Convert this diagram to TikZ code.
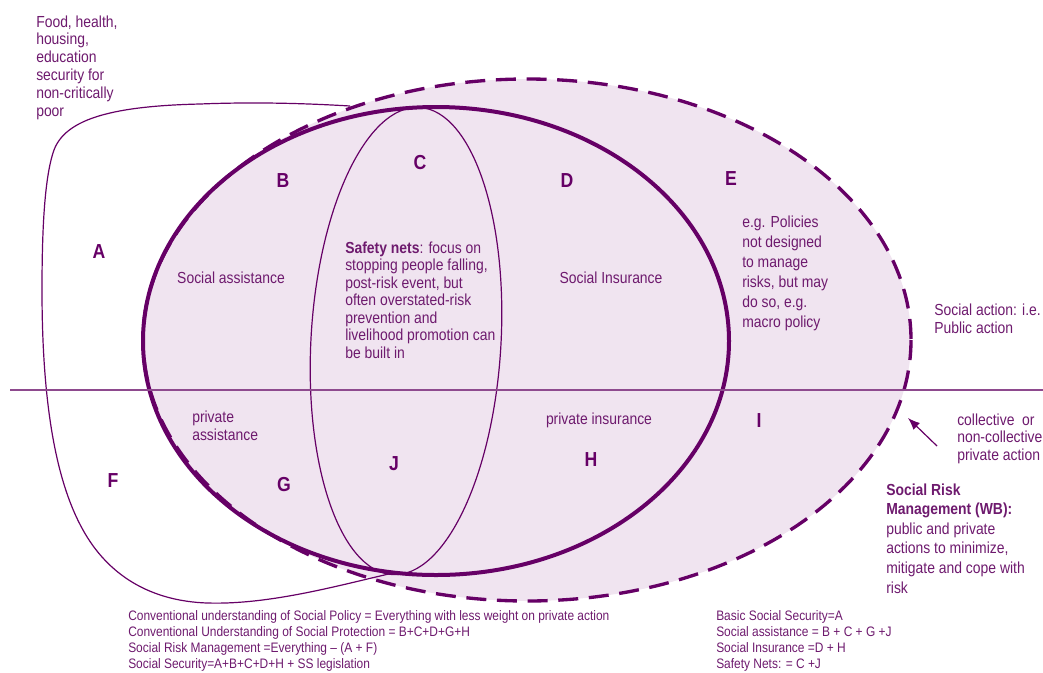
\documentclass[tikz,border=0pt]{standalone}
\usepackage{fontspec}
\setmainfont{Liberation Sans}[FakeStretch=0.87]
\usetikzlibrary{arrows.meta}
\definecolor{lineP}{HTML}{660066}
\definecolor{textP}{HTML}{6E1A6E}
\definecolor{fillP}{HTML}{F0E4F0}
\definecolor{hlineP}{HTML}{8E4A8E}
\begin{document}
\begin{tikzpicture}[x=0.75pt,y=-0.75pt,
  lbl/.style={font=\fontsize{15.2}{15.2}\selectfont\bfseries, text=lineP, inner sep=0},
  txt/.style={font=\fontsize{12}{13.4}\selectfont, text=textP, inner sep=0, align=left, anchor=base west},
  ctxt/.style={font=\fontsize{12}{13.4}\selectfont, text=textP, inner sep=0, anchor=base},
  foot/.style={font=\fontsize{10.3}{12}\selectfont, text=textP, inner sep=0, align=left, anchor=base west},
  thinline/.style={draw=lineP, line width=0.9pt},
  thickline/.style={draw=lineP, line width=3pt},
  dashline/.style={draw=lineP, line width=2.5pt, dash pattern=on 15pt off 8pt},
  ]
\useasboundingbox (0,0) rectangle (1043,672);
% regions
\fill[fillP] (527,340) ellipse [x radius=384, y radius=261];
\draw[thinline] (350,106) .. controls (300,103) and (250,102) .. (200,104)
  .. controls (115,106) and (66,118) .. (54,150)
  .. controls (44,178) and (42,235) .. (42,290)
  .. controls (42,400) and (55,480) .. (83,530)
  .. controls (108,575) and (150,601) .. (207,603)
  .. controls (270,605) and (340,585) .. (393,573);
\draw[thinline, rotate around={-3.3:(406,341)}] (406,341) ellipse [x radius=95, y radius=234];
\draw[thickline] (436,341) ellipse [x radius=293, y radius=234];
\draw[dashline] (527,340) ellipse [x radius=384, y radius=261];
\draw[draw=hlineP, line width=1pt] (10,390) -- (1043,390);
% arrow
\coordinate (arrS) at (937,446);
\coordinate (arrE) at (908,418);
\draw[draw=lineP, line width=0.9pt, -{Latex[length=9pt,width=7pt]}] (arrS) -- (arrE);
% letters
\node[lbl] (lA) at (99,252) {A};
\node[lbl] (lB) at (283,181) {B};
\node[lbl] (lC) at (420,163) {C};
\node[lbl] (lD) at (567,181) {D};
\node[lbl] (lE) at (731,179) {E};
\node[lbl] (lF) at (113,481) {F};
\node[lbl] (lG) at (284,485) {G};
\node[lbl] (lJ) at (394,464) {J};
\node[lbl] (lH) at (591,460) {H};
\node[lbl] (lI) at (759,421) {I};
% texts (anchor = baseline of the last line)
\node[txt, font=\fontsize{12}{13.35}\selectfont] (food) at (36,116) {Food, health,\\housing,\\education\\security for\\non-critically\\poor};
\node[ctxt] (sassist) at (231,283) {Social assistance};
\node[txt, font=\fontsize{12}{13.1}\selectfont] (snets) at (345,358) {\textbf{Safety nets}: focus on\\stopping people falling,\\post-risk event, but\\often overstated-risk\\prevention and\\livelihood promotion can\\be built in};
\node[ctxt] (sins) at (611,283) {Social Insurance};
\node[txt, font=\fontsize{12}{15}\selectfont] (etext) at (742,327) {e.g. Policies\\not designed\\to manage\\risks, but may\\do so, e.g.\\macro policy};
\node[txt, font=\fontsize{12}{13.5}\selectfont] (sact) at (934,333) {Social action: i.e.\\Public action};
\node[txt, font=\fontsize{12}{13}\selectfont] (passist) at (192,440) {private\\assistance};
\node[ctxt] (pins) at (599,424) {private insurance};
\node[txt, font=\fontsize{12}{13.1}\selectfont] (coll) at (957,460) {collective \ or\\non-collective\\private action};
\node[txt, font=\fontsize{12}{14.7}\selectfont] (srm) at (886,593) {\textbf{Social Risk}\\\textbf{Management (WB):}\\public and private\\actions to minimize,\\mitigate and cope with\\risk};
\node[foot] (footL) at (128,668) {Conventional understanding of Social Policy = Everything with less weight on private action\\Conventional Understanding of Social Protection = B+C+D+G+H\\Social Risk Management =Everything -- (A + F)\\Social Security=A+B+C+D+H + SS legislation};
\node[foot] (footR) at (716,668) {Basic Social Security=A\\Social assistance = B + C + G +J\\Social Insurance =D + H\\Safety Nets: = C +J};
\end{tikzpicture}
\end{document}
